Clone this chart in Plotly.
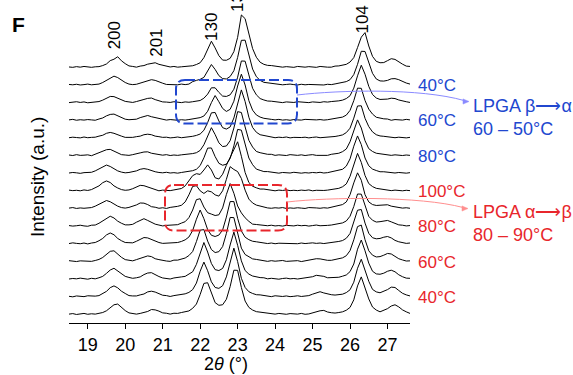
import numpy as np
import plotly.graph_objects as go

# ---------------- data ----------------
# 2-theta sampling grid (deg): 18.5 ... 27.6 in 0.1 steps (92 points)
two_theta = np.arange(185, 277) / 10.0

# intensities (a.u., one unit = stacking offset); bottom -> top
heat_30 = [.05,.08,.03,.06,.09,.04,.07,.05,.09,.14,
           .24,.40,.58,.62,.41,.25,.12,.10,.05,.09,
           .15,.20,.31,.29,.22,.12,.10,.05,.10,.09,
           .14,.19,.23,.38,.62,1.16,1.79,1.83,1.20,.70,
           .55,.58,.89,1.61,2.54,2.53,1.56,.79,.43,.28,
           .19,.16,.11,.11,.08,.05,.09,.06,.04,.08,
           .07,.05,.09,.04,.06,.12,.19,.24,.26,.17,
           .13,.11,.14,.18,.27,.43,.86,1.65,2.16,1.55,
           .91,.45,.28,.18,.27,.36,.51,.58,.46,.29,.18,.09]
heat_40 = [.06,.03,.08,.05,.04,.09,.06,.07,.10,.21,
           .34,.55,.65,.54,.35,.22,.10,.08,.08,.14,
           .19,.31,.35,.30,.20,.12,.10,.05,.10,.13,
           .15,.20,.28,.44,.81,1.48,2.00,1.51,.88,.56,
           .51,.66,1.16,2.06,2.79,2.03,1.08,.56,.32,.22,
           .15,.14,.10,.07,.04,.09,.06,.05,.08,.04,
           .06,.09,.05,.08,.10,.18,.25,.32,.25,.18,
           .15,.13,.14,.18,.27,.43,.86,1.65,2.16,1.55,
           .91,.45,.31,.26,.33,.44,.58,.56,.39,.23,.14,.08]
heat_50 = [.04,.07,.05,.09,.06,.03,.08,.05,.11,.19,
           .36,.55,.65,.49,.34,.19,.13,.08,.11,.16,
           .29,.38,.40,.27,.18,.10,.08,.04,.10,.11,
           .16,.19,.30,.45,.87,1.54,2.11,1.57,.92,.57,
           .52,.64,1.13,1.97,2.70,1.95,1.07,.52,.32,.21,
           .16,.12,.11,.05,.08,.06,.03,.07,.09,.05,
           .07,.04,.08,.08,.13,.17,.25,.24,.19,.11,
           .12,.12,.14,.20,.27,.46,.89,1.73,2.25,1.64,
           .94,.48,.33,.31,.37,.48,.54,.45,.28,.17,.09,.08]
heat_60 = [.08,.05,.03,.07,.06,.09,.04,.09,.15,.26,
           .45,.61,.64,.44,.27,.14,.10,.07,.14,.20,
           .30,.35,.31,.19,.14,.08,.06,.04,.11,.11,
           .18,.23,.37,.60,1.16,1.81,1.84,1.19,.71,.54,
           .59,.88,1.62,2.53,2.52,1.56,.79,.43,.28,.18,
           .15,.12,.11,.04,.08,.05,.07,.09,.04,.06,
           .05,.08,.03,.08,.09,.18,.19,.18,.12,.10,
           .10,.14,.16,.24,.36,.65,1.26,2.01,2.10,1.27,
           .64,.39,.29,.31,.39,.49,.46,.32,.19,.12,.06,.07]
heat_70 = [.05,.09,.06,.04,.08,.03,.08,.11,.21,.34,
           .54,.65,.55,.34,.21,.11,.10,.09,.18,.28,
           .39,.37,.29,.17,.11,.06,.07,.09,.12,.11,
           .17,.26,.42,.79,1.43,1.95,1.46,.84,.52,.45,
           .53,.82,1.55,2.43,2.43,1.48,.76,.41,.27,.18,
           .15,.11,.11,.05,.08,.04,.07,.06,.09,.05,
           .06,.04,.08,.05,.07,.09,.06,.08,.05,.07,
           .11,.12,.17,.22,.35,.62,1.22,1.94,1.98,1.21,
           .63,.38,.32,.34,.41,.45,.37,.23,.15,.09,.06,.08]
heat_80 = [.07,.04,.06,.09,.05,.03,.09,.10,.20,.33,
           .50,.60,.50,.32,.20,.11,.11,.14,.26,.37,
           .46,.36,.26,.15,.10,.05,.08,.08,.12,.12,
           .21,.29,.52,.95,1.54,1.59,1.12,.80,.72,.64,
           .68,1.07,1.83,2.45,1.90,1.18,.79,.51,.31,.15,
           .13,.10,.10,.06,.09,.05,.07,.04,.08,.06,
           .05,.09,.06,.08,.04,.07,.10,.06,.05,.08,
           .10,.13,.15,.22,.33,.60,1.15,1.86,1.85,1.16,
           .59,.37,.27,.29,.32,.36,.28,.19,.11,.09,.05,.07]
heat_90 = [.06,.09,.04,.07,.05,.08,.09,.17,.28,.42,
           .49,.42,.28,.17,.09,.06,.10,.16,.24,.35,
           .34,.26,.14,.11,.05,.08,.04,.10,.12,.16,
           .22,.41,.81,1.29,1.33,1.04,.89,1.04,.98,.81,
           .74,1.04,1.69,2.41,2.25,2.13,1.74,1.08,.57,.35,
           .23,.18,.09,.07,.05,.08,.06,.09,.04,.07,
           .05,.08,.06,.04,.09,.06,.07,.05,.08,.06,
           .11,.14,.17,.26,.41,.82,1.49,2.06,1.64,.82,
           .41,.26,.21,.22,.23,.25,.17,.14,.09,.06,.08,.05]
heat_100 = [.08,.05,.07,.04,.09,.06,.11,.20,.32,.50,
            .60,.51,.32,.20,.11,.07,.09,.16,.25,.35,
            .33,.26,.15,.11,.04,.08,.06,.05,.09,.11,
            .17,.32,.58,.90,1.01,.97,1.22,1.51,1.22,.78,
            .71,.98,1.49,1.95,2.41,2.82,2.00,1.08,.51,.30,
            .21,.14,.14,.10,.07,.04,.08,.06,.09,.05,
            .07,.05,.08,.06,.09,.04,.07,.05,.06,.08,
            .11,.14,.18,.27,.43,.86,1.56,2.16,1.65,.91,
            .45,.28,.18,.14,.10,.10,.05,.08,.06,.04,.07,.05]
cool_90 = [.05,.08,.06,.03,.07,.09,.09,.17,.28,.42,
           .50,.42,.27,.17,.10,.06,.08,.12,.17,.26,
           .30,.26,.17,.12,.08,.06,.09,.05,.07,.04,
           .08,.11,.13,.18,.26,.47,.91,1.46,1.47,.98,
           .60,.49,.55,.87,1.59,2.52,2.48,1.66,.90,.52,
           .27,.20,.13,.13,.10,.07,.04,.08,.06,.05,
           .09,.06,.04,.07,.05,.08,.06,.09,.05,.07,
           .12,.13,.19,.26,.44,.85,1.57,2.15,1.66,.90,
           .46,.27,.19,.12,.12,.09,.07,.05,.08,.06,.04,.07]
cool_80 = [.07,.04,.09,.05,.06,.08,.03,.11,.17,.29,
           .37,.39,.28,.18,.09,.07,.05,.09,.12,.19,
           .24,.25,.17,.13,.08,.06,.09,.04,.07,.05,
           .08,.10,.11,.15,.20,.33,.65,1.19,1.62,1.23,
           .76,.55,.58,.88,1.60,2.53,2.48,1.66,.90,.52,
           .27,.20,.14,.11,.11,.05,.08,.06,.04,.09,
           .06,.05,.08,.04,.07,.09,.05,.06,.08,.05,
           .11,.14,.17,.26,.41,.82,1.49,2.06,1.60,.88,
           .43,.27,.17,.14,.10,.10,.05,.08,.06,.04,.07,.05]
cool_70 = [.05,.08,.06,.04,.09,.05,.07,.08,.14,.19,
           .30,.35,.30,.20,.14,.07,.06,.07,.11,.14,
           .22,.25,.22,.14,.11,.07,.08,.04,.06,.09,
           .05,.07,.11,.13,.18,.26,.47,.91,1.46,1.48,
           1.00,.62,.54,.66,1.17,2.04,2.76,2.10,1.21,.63,
           .36,.22,.17,.12,.11,.05,.08,.06,.09,.04,
           .07,.05,.06,.08,.04,.07,.09,.05,.06,.08,
           .11,.12,.16,.21,.34,.59,1.16,1.85,1.86,1.15,
           .68,.38,.22,.15,.13,.09,.07,.05,.08,.06,.04,.07]
cool_60 = [.06,.09,.04,.07,.05,.08,.06,.04,.11,.17,
           .29,.37,.39,.28,.18,.10,.07,.09,.10,.19,
           .25,.31,.24,.19,.11,.09,.05,.08,.06,.04,
           .07,.05,.08,.11,.13,.19,.28,.55,1.04,1.44,
           1.09,.71,.54,.66,1.12,1.98,2.65,2.04,1.15,.61,
           .34,.22,.15,.14,.09,.06,.09,.05,.07,.04,
           .08,.06,.05,.09,.07,.04,.06,.08,.05,.07,
           .10,.13,.15,.22,.33,.60,1.15,1.86,1.85,1.16,
           .67,.39,.21,.16,.12,.11,.04,.08,.06,.05,.09,.06]
cool_50 = [.04,.07,.09,.05,.08,.03,.06,.09,.10,.18,
           .27,.39,.38,.29,.16,.11,.08,.05,.10,.14,
           .22,.28,.30,.21,.15,.08,.07,.05,.09,.06,
           .04,.08,.06,.09,.13,.16,.29,.52,.88,.88,
           .62,.41,.39,.48,.80,1.48,2.40,2.39,1.61,.85,
           .48,.27,.19,.13,.12,.09,.07,.04,.08,.06,
           .05,.09,.06,.07,.04,.08,.06,.05,.09,.07,
           .10,.11,.14,.18,.27,.43,.86,1.56,2.16,1.65,
           .96,.50,.30,.22,.22,.24,.29,.27,.19,.12,.09,.05]
cool_40 = [.07,.05,.08,.04,.06,.09,.05,.07,.09,.18,
           .30,.46,.54,.46,.30,.18,.09,.06,.08,.14,
           .20,.30,.34,.30,.20,.14,.07,.06,.08,.05,
           .09,.06,.09,.23,.30,.36,.47,.85,1.20,.92,
           .57,.40,.38,.52,.85,1.60,2.57,2.58,1.75,.94,
           .51,.30,.19,.16,.11,.11,.08,.05,.07,.09,
           .06,.04,.08,.05,.07,.06,.09,.05,.04,.08,
           .06,.10,.13,.16,.23,.34,.63,1.21,1.95,1.94,
           1.31,.70,.38,.27,.26,.30,.39,.40,.34,.23,.15,.09]
cool_30 = [.06,.04,.08,.05,.09,.06,.04,.07,.08,.14,
           .23,.42,.50,.64,.41,.25,.12,.09,.05,.11,
           .14,.22,.28,.30,.21,.15,.08,.06,.09,.05,
           .07,.09,.12,.13,.20,.30,.59,1.06,1.52,1.14,
           .70,.45,.44,.55,.93,1.74,3.01,2.80,1.96,1.10,
           .61,.33,.21,.15,.14,.10,.07,.05,.08,.06,
           .04,.09,.06,.05,.08,.07,.04,.09,.06,.05,
           .05,.11,.12,.16,.21,.34,.59,1.16,1.75,2.01,
           1.25,.66,.38,.30,.31,.42,.53,.49,.34,.22,.11,.09]

scans = [heat_30, heat_40, heat_50, heat_60, heat_70, heat_80, heat_90, heat_100,
         cool_90, cool_80, cool_70, cool_60, cool_50, cool_40, cool_30]
offsets = [0, 1, 2, 3, 4, 5, 6, 7, 8, 9, 10, 11, 12, 13, 14]

temp_labels = ["40°C", "60°C", "80°C", "100°C", "80°C", "60°C", "40°C"]
temp_label_scan = [1, 3, 5, 7, 9, 11, 13]
temp_label_heating = [True, True, True, True, False, False, False]

hkl_labels = ["200", "201", "130", "131", "104"]
hkl_2theta = [19.71, 20.83, 22.30, 23.01, 26.32]

x_ticks = [19, 20, 21, 22, 23, 24, 25, 26, 27]

for s in scans:
    assert len(s) == len(two_theta), len(s)

# ---------------- layout helpers ----------------
W, H = 573, 375
L, R, T, B = 69, 410, 10, 323
PX_PER_OFFSET = 17.64
y_bottom = 315.0
FONT = "Liberation Sans, Arial, Helvetica, sans-serif"
BLUE = "#2147cf"
RED = "#e8262c"
BLUE_LIGHT = "#8a8aff"
RED_LIGHT = "#ff8e8e"


def pxx(xp):
    return (xp - L) / (R - L)


def pxy(yp):
    return (B - yp) / (B - T)


def rounded_rect(x0, y0, x1, y1, r):
    pts = [
        ("M", (x0 + r, y0)), ("L", (x1 - r, y0)), ("Q", (x1, y0), (x1, y0 + r)),
        ("L", (x1, y1 - r)), ("Q", (x1, y1), (x1 - r, y1)), ("L", (x0 + r, y1)),
        ("Q", (x0, y1), (x0, y1 - r)), ("L", (x0, y0 + r)), ("Q", (x0, y0), (x0 + r, y0)),
    ]
    out = []
    for item in pts:
        cmd = item[0]
        coords = " ".join(f"{pxx(p[0]):.5f},{pxy(p[1]):.5f}" for p in item[1:])
        out.append(f"{cmd} {coords}")
    return " ".join(out) + " Z"


def cubic(p0, c1, c2, p1):
    f = lambda p: f"{pxx(p[0]):.5f},{pxy(p[1]):.5f}"
    return f"M {f(p0)} C {f(c1)} {f(c2)} {f(p1)}"


def tri(tip, length=6, half=2.6):
    f = lambda p: f"{pxx(p[0]):.5f},{pxy(p[1]):.5f}"
    a = (tip[0] - length, tip[1] - half)
    b = (tip[0] - length, tip[1] + half)
    return f"M {f(tip)} L {f(a)} L {f(b)} Z"


# ---------------- figure ----------------
fig = go.Figure()
for vals, off in zip(scans, offsets):
    fig.add_trace(go.Scatter(
        x=two_theta, y=np.array(vals) + off, mode="lines",
        line=dict(color="black", width=1), hoverinfo="skip", showlegend=False))

y_lo = -(B - y_bottom) / PX_PER_OFFSET
y_hi = (y_bottom - T) / PX_PER_OFFSET

annotations = []
# temperature labels
for lab, idx, heat in zip(temp_labels, temp_label_scan, temp_label_heating):
    annotations.append(dict(
        text=lab, xref="paper", yref="y", x=pxx(416), y=offsets[idx],
        xanchor="left", yanchor="middle", showarrow=False,
        font=dict(family=FONT, size=17, color=RED if heat else BLUE)))

# hkl labels (rotated)
hkl_ypx = [35, 42.5, 26.5, -2, 19.5]
for lab, tt, ypx in zip(hkl_labels, hkl_2theta, hkl_ypx):
    annotations.append(dict(
        text=lab, xref="x", yref="paper", x=tt, y=pxy(ypx),
        xanchor="center", yanchor="middle", textangle=-90, showarrow=False,
        font=dict(family=FONT, size=17, color="black")))

# transition labels
annotations.append(dict(
    text="LPGA β⟶α<br>60 – 50°C", xref="paper", yref="paper",
    x=pxx(471), y=pxy(117.5), xanchor="left", yanchor="middle", align="left",
    showarrow=False, font=dict(family=FONT, size=18, color=BLUE)))
annotations.append(dict(
    text="LPGA α⟶β<br>80 – 90°C", xref="paper", yref="paper",
    x=pxx(471), y=pxy(223), xanchor="left", yanchor="middle", align="left",
    showarrow=False, font=dict(family=FONT, size=18, color=RED)))

# axis titles and panel letter
annotations.append(dict(
    text="2<i>θ</i> (°)", xref="paper", yref="paper", x=pxx(226), y=pxy(364),
    xanchor="center", yanchor="middle", showarrow=False,
    font=dict(family=FONT, size=18, color="black")))
annotations.append(dict(
    text="Intensity (a.u.)", xref="paper", yref="paper", x=pxx(38), y=pxy(177),
    xanchor="center", yanchor="middle", textangle=-90, showarrow=False,
    font=dict(family=FONT, size=19, color="black")))
annotations.append(dict(
    text="<b>F</b>", xref="paper", yref="paper", x=pxx(18.5), y=pxy(24.5),
    xanchor="center", yanchor="middle", showarrow=False,
    font=dict(family=FONT, size=21, color="black")))

shapes = [
    dict(type="path", xref="paper", yref="paper",
         path=rounded_rect(176, 80, 297, 123.5, 9),
         line=dict(color=BLUE, width=2, dash="10px,4px"), layer="above"),
    dict(type="path", xref="paper", yref="paper",
         path=rounded_rect(165, 185, 287, 230.5, 9),
         line=dict(color=RED, width=2, dash="10px,4px"), layer="above"),
    dict(type="path", xref="paper", yref="paper",
         path=cubic((297, 95), (340, 90), (420, 88), (464, 100.5)),
         line=dict(color=BLUE_LIGHT, width=1), layer="above"),
    dict(type="path", xref="paper", yref="paper", path=tri((469, 101.5)),
         line=dict(color=BLUE_LIGHT, width=0.5), fillcolor=BLUE_LIGHT, layer="above"),
    dict(type="path", xref="paper", yref="paper",
         path=cubic((287, 202), (330, 197), (420, 196), (463, 207.5)),
         line=dict(color=RED_LIGHT, width=1), layer="above"),
    dict(type="path", xref="paper", yref="paper", path=tri((468, 208.5)),
         line=dict(color=RED_LIGHT, width=0.5), fillcolor=RED_LIGHT, layer="above"),
]

fig.update_layout(
    width=W, height=H,
    margin=dict(l=L, r=W - R, t=T, b=H - B, pad=0),
    paper_bgcolor="white", plot_bgcolor="white",
    showlegend=False,
    annotations=annotations,
    shapes=shapes,
    xaxis=dict(range=[18.5, 27.6], tickvals=x_ticks, ticktext=[str(t) for t in x_ticks],
               showline=True, linecolor="black", linewidth=1.3,
               ticks="outside", ticklen=5, tickwidth=1, tickcolor="black",
               showgrid=False, zeroline=False,
               tickfont=dict(family=FONT, size=18, color="black")),
    yaxis=dict(range=[y_lo, y_hi], showticklabels=False, showline=False,
               showgrid=False, zeroline=False, ticks=""),
)

fig.write_html(
    "out.html",
    config={"displayModeBar": False, "staticPlot": True},
    post_script="document.body.style.margin='0px';document.body.style.overflow='hidden';",
)
